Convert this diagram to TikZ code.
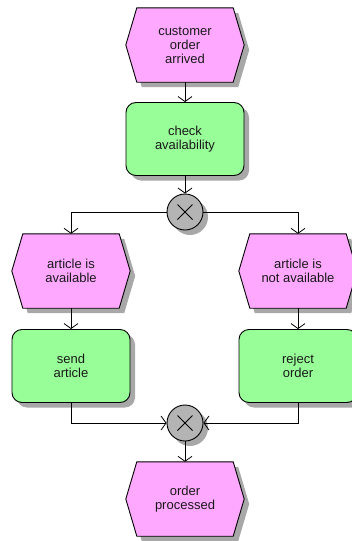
\documentclass[tikz,border=0pt]{standalone}
\usepackage{fontspec}
\setmainfont{Liberation Sans}
\usetikzlibrary{arrows.meta,shadows,backgrounds}
\definecolor{evpink}{HTML}{FFA8FF}
\definecolor{fngreen}{HTML}{98FF98}
\definecolor{gwgray}{HTML}{B4B4B4}
\definecolor{shad}{HTML}{A8A8A8}
\tikzset{
 txt/.style={font=\fontsize{13}{14}\selectfont, align=center, text=black!90},
 myshadow/.style={drop shadow={shadow xshift=5pt, shadow yshift=-5pt, fill=shad, opacity=1}},
 fnbox/.style={txt, draw, line width=0.9pt, fill=fngreen, rounded corners=10pt, minimum width=118pt, minimum height=73pt, inner sep=0pt, myshadow},
 evbox/.style={txt, minimum width=118pt, minimum height=74pt, inner sep=0pt},
 gw/.style={circle, draw, line width=0.9pt, fill=gwgray, minimum size=36pt, inner sep=0pt, myshadow,
   path picture={\draw[line width=0.8pt] ([shift={(-7.5pt,-7.5pt)}]path picture bounding box.center) -- ++(15pt,15pt)
                   ([shift={(-7.5pt,7.5pt)}]path picture bounding box.center) -- ++(15pt,-15pt);}},
 flow/.style={-{Straight Barb[length=5pt,width=14pt]}, line width=0.8pt},
}
\newcommand\hexev[3]{%
 \node[evbox] (#1) at #2 {#3};
 \begin{pgfonlayer}{background}
 \path[fill=evpink, draw, line width=0.9pt, preaction={fill=shad, transform canvas={shift={(5pt,-5pt)}}}]
   (#1.west) -- ([xshift=11pt]#1.north west) -- ([xshift=-11pt]#1.north east) -- (#1.east)
   -- ([xshift=-11pt]#1.south east) -- ([xshift=11pt]#1.south west) -- cycle;
 \end{pgfonlayer}}
\begin{document}
\begin{tikzpicture}[x=1pt,y=-1pt]
\useasboundingbox (0,0) rectangle (351,541);
\hexev{e1}{(185,45)}{customer\\order\\arrived}
\node[fnbox] (f1) at (185,139) {check\\availability};
\node[gw] (g1) at (185,212) {};
\hexev{e2}{(71,271)}{article is\\available}
\hexev{e3}{(298,271)}{article is\\not available}
\node[fnbox] (f2) at (71,366) {send\\article};
\node[fnbox] (f3) at (298,366) {reject\\order};
\node[gw] (g2) at (185,423) {};
\hexev{e4}{(185,499)}{order\\processed}
\draw[flow] (e1) -- (f1);
\draw[flow] (f1) -- (g1);
\draw[flow] (g1.west) -| (e2.north);
\draw[flow] (g1.east) -| (e3.north);
\draw[flow] (e2) -- (f2);
\draw[flow] (e3) -- (f3);
\draw[flow] (f2.south) |- (g2.west);
\draw[flow] (f3.south) |- (g2.east);
\draw[flow] (g2) -- (e4);
\end{tikzpicture}
\end{document}
